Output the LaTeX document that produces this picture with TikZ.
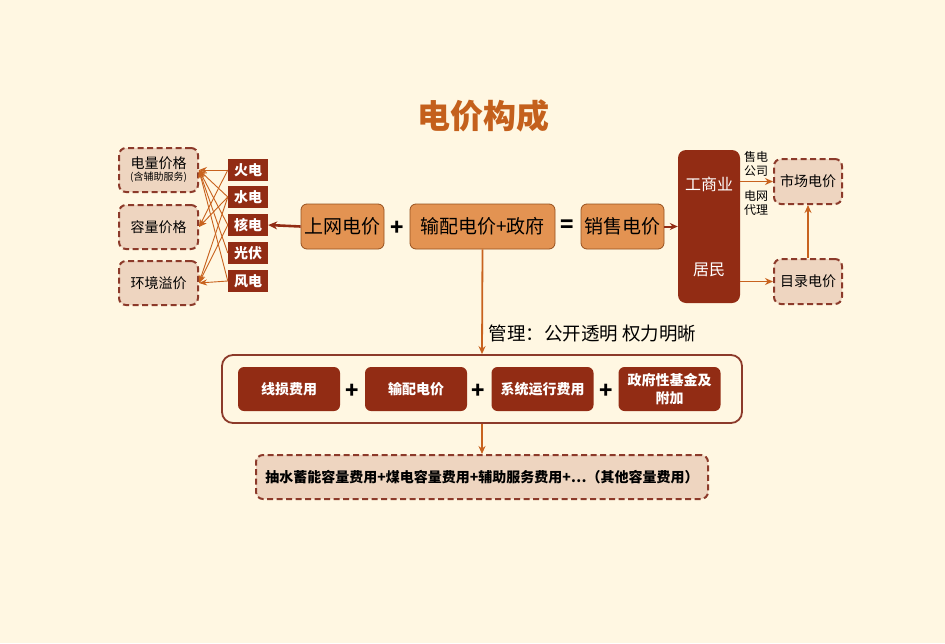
\documentclass[tikz,border=0pt]{standalone}
\usepackage{fontspec}
\setmainfont{Noto Sans CJK SC}
\usetikzlibrary{arrows.meta,calc}
\definecolor{bg}{RGB}{255,247,226}
\definecolor{dred}{RGB}{146,44,20}
\definecolor{orng}{RGB}{227,147,82}
\definecolor{obrd}{RGB}{150,80,30}
\definecolor{pink}{RGB}{238,213,192}
\definecolor{dbrd}{RGB}{140,58,42}
\definecolor{arr}{RGB}{200,98,30}
\definecolor{ttl}{RGB}{196,96,28}
\begin{document}
\begin{tikzpicture}[x=1pt,y=-1pt,
  dashbox/.style={draw=dbrd,line width=2pt,dash pattern=on 6pt off 3.5pt,fill=pink,rounded corners=7pt,inner sep=0pt,font=\fontsize{14}{16}\selectfont,align=center},
  srcbox/.style={fill=dred,minimum width=40pt,minimum height=22pt,inner sep=0pt,text=white,font=\fontsize{14}{15}\selectfont\bfseries},
  orgbox/.style={fill=orng,draw=obrd,line width=0.8pt,rounded corners=6pt,minimum height=45pt,inner sep=0pt,font=\fontsize{19}{20}\selectfont},
  redbox/.style={fill=dred,rounded corners=6pt,minimum width=102pt,minimum height=44pt,inner sep=0pt,text=white,font=\fontsize{14}{18}\selectfont\bfseries,align=center},
  thin/.style={draw=arr,line width=0.9pt,-{Stealth[length=8pt,width=6pt]}},
  arrw/.style={draw=arr,line width=1.8pt,-{Stealth[length=8pt,width=7pt]}},
  sym/.style={font=\fontsize{22}{22}\selectfont\bfseries,inner sep=0pt}]
\fill[bg] (0,0) rectangle (945,643);
\useasboundingbox (0,0) rectangle (945,643);
\node[text=ttl,font=\fontsize{33}{35}\selectfont\bfseries] (title) at (483,116) {电价构成};
% left dashed boxes
\node[dashbox,minimum width=79pt,minimum height=44pt] (dl) at (158.5,170) {电量价格\\[-4pt]{\fontsize{10}{11}\selectfont (含辅助服务)}};
\node[dashbox,minimum width=79pt,minimum height=44pt] (rl) at (158.5,227) {容量价格};
\node[dashbox,minimum width=79pt,minimum height=44pt] (hj) at (158.5,283) {环境溢价};
% sources
\node[srcbox] (hd) at (248,170) {火电};
\node[srcbox] (sd) at (248,197) {水电};
\node[srcbox] (hed) at (248,225) {核电};
\node[srcbox] (gf) at (248,253) {光伏};
\node[srcbox] (fd) at (248,281) {风电};
\foreach \s in {hd,sd,hed,gf,fd} \draw[thin] (\s.west) -- (dl.east);
\foreach \s in {hd,sd} \draw[thin] (\s.west) -- (rl.east);
\foreach \s in {sd,hed,fd} \draw[thin] (\s.west) -- (hj.east);
% main row
\node[orgbox,minimum width=83pt] (sw) at (342.5,226.5) {上网电价};
\node[sym] (p1) at (397,228) {+};
\node[orgbox,minimum width=145pt] (sp) at (482.5,226.5) {输配电价+政府};
\node[sym] (eq) at (567,226) {=};
\node[orgbox,minimum width=83pt] (xs) at (622.5,226.5) {销售电价};
\draw[draw=dred,line width=2.6pt,-{Stealth[length=9pt,width=8pt]}] (sw.west) -- (hed.east);
% right
\node[fill=dred,rounded corners=8pt,minimum width=62pt,minimum height=153pt,inner sep=0pt] (user) at (709,226.5) {};
\node[text=white,font=\fontsize{16}{18}\selectfont] (gsy) at (709,184) {工商业};
\node[text=white,font=\fontsize{16}{18}\selectfont] (jm) at (709,270) {居民};
\draw[draw=dred,line width=2pt,-{Stealth[length=8pt,width=7pt]}] (xs.east) -- (user.west |- xs.east);
\node[dashbox,minimum width=68pt,minimum height=45pt] (sc) at (808,181.5) {市场电价};
\node[dashbox,minimum width=68pt,minimum height=45pt] (ml) at (808,281.5) {目录电价};
\draw[arrw] (user.east |- sc.west) -- (sc.west);
\draw[arrw] (user.east |- ml.west) -- (ml.west);
\draw[arrw] (ml.north) -- (sc.south);
\node[font=\fontsize{12}{14}\selectfont,align=center] (sdgs) at (756,164) {售电\\公司};
\node[font=\fontsize{12}{14}\selectfont,align=center] (dwdl) at (756,203) {电网\\代理};
% container
\node[draw=dbrd,line width=1.8pt,fill=bg,rounded corners=11pt,minimum width=520pt,minimum height=68pt,inner sep=0pt] (cont) at (482,389) {};
\draw[arrw] (sp.south) -- (cont.north);
\node[font=\fontsize{18.5}{20}\selectfont,anchor=west] (gl) at (485,333) {管理：公开透明 权力明晰};
\node[redbox] (xsf) at (289,389) {线损费用};
\node[redbox] (spd) at (416,389) {输配电价};
\node[redbox] (xtf) at (542.5,389) {系统运行费用};
\node[redbox] (zfj) at (669.5,389) {政府性基金及\\附加};
\node[sym] (q1) at (352,391) {+};
\node[sym] (q2) at (478.5,391) {+};
\node[sym] (q3) at (606,391) {+};
% bottom
\node[dashbox,minimum width=452pt,minimum height=44pt,font=\fontsize{14}{16}\selectfont\bfseries] (bot) at (482,477) {抽水蓄能容量费用+煤电容量费用+辅助服务费用+…（其他容量费用）};
\draw[arrw] (cont.south) -- (bot.north);
\end{tikzpicture}
\end{document}
